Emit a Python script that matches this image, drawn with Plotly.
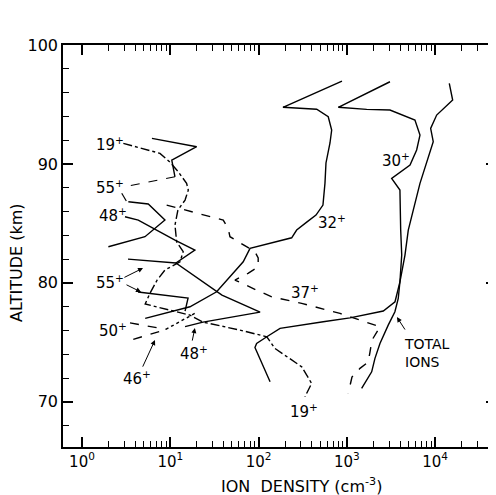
import plotly.graph_objects as go
import math

# ---- data (density cm^-3, altitude km) ----
total_n = [14450, 15780, 10400, 8890, 9510, 8010, 6730, 5650, 4960, 4550, 3990, 3820, 3500, 2940, 2370, 2080, 1910, 1470]
total_alt = [96.78, 95.37, 94.11, 92.99, 91.87, 90.05, 88.37, 86.12, 84.44, 82.34, 80.09, 78.70, 77.57, 76.45, 74.91, 73.65, 72.52, 71.13]

n30 = [3076, 800, 1676, 3076, 5900, 6730, 6170, 5190, 3215, 3990, 4070, 4180, 3990, 3510, 2585, 1676, 1084, 540, 294, 175, 124, 95, 91, 104, 135]
alt30 = [96.91, 94.76, 94.59, 94.53, 93.69, 92.43, 91.17, 89.91, 88.79, 87.80, 84.44, 82.34, 80.09, 78.41, 77.63, 77.35, 77.06, 76.73, 76.45, 76.17, 75.47, 74.91, 74.56, 73.59, 71.68]

n32 = [880, 189, 455, 615, 673, 644, 580, 565, 536, 447, 351, 270, 237, 80, 67, 33.5, 16.7, 5.2]
alt32 = [96.97, 94.76, 94.60, 93.97, 92.85, 91.76, 90.08, 88.39, 86.54, 85.70, 85.11, 84.44, 83.79, 82.90, 81.77, 79.25, 77.99, 77.01]

n37 = [9.1, 39.8, 45.4, 47.4, 73, 91, 99, 99, 76, 54, 95, 141, 308, 836, 2370, 2136, 1925, 1827, 1747, 1407, 1142, 1037]
alt37 = [86.54, 85.28, 84.53, 83.88, 83.04, 82.62, 82.09, 81.35, 80.80, 80.24, 79.39, 78.83, 78.28, 77.43, 76.31, 75.78, 75.19, 74.18, 73.34, 72.81, 72.08, 70.71]

n19 = [2.94, 7.64, 9.9, 12.3, 15.3, 16.0, 14.7, 12.2, 11.3, 11.8, 14.0, 12.9, 8.7, 7.1, 5.9, 5.2, 16.7, 23.5, 61.5, 124, 153, 208, 308, 399, 335]
alt19 = [91.73, 90.89, 90.16, 89.34, 88.37, 87.80, 86.96, 86.12, 84.86, 83.46, 82.62, 81.77, 81.08, 80.24, 79.14, 78.22, 77.29, 76.70, 76.03, 75.47, 74.49, 73.79, 72.94, 71.55, 70.42]

n55_top = [6.2, 19.9, 10.4, 11.3]
alt55_top = [92.15, 91.45, 90.33, 88.92]
n55_lead = [11.3, 3.32]
alt55_lead = [88.92, 88.14]
n55_mid = [3.35, 5.63, 8.7, 5.17, 1.99]
alt55_mid = [86.82, 86.63, 85.28, 83.88, 83.04]
n55_lead2 = [2.82, 3.21]
alt55_lead2 = [87.53, 86.82]
n55_low = [4.31, 15.9, 14.7]
alt55_low = [79.23, 78.72, 77.63]

n48 = [3.07, 4.34, 11.3, 19.0, 11.6, 16.7, 30.7, 38.5, 104, 23.5, 14.7]
alt48 = [85.56, 85.28, 83.60, 82.76, 81.67, 80.87, 79.54, 78.97, 77.54, 76.70, 76.32]
n48_b = [11.6, 3.32]
alt48_b = [81.67, 82.0]

n50 = [3.5, 8.9]
alt50 = [76.64, 76.09]
n46 = [3.81, 9.1]
alt46 = [75.25, 76.09]
n4650_up = [8.9, 20.1]
alt4650_up = [76.09, 77.54]

# tick values
x_major = [1, 10, 100, 1000, 10000]
x_major_text = ["10<sup>0</sup>", "10<sup>1</sup>", "10<sup>2</sup>", "10<sup>3</sup>", "10<sup>4</sup>"]
x_minor = [m * d for d in x_major for m in range(2, 10)]
y_major = [70, 80, 90, 100]

# labels: (text, density, altitude)
labels = [
    ("19<sup>+</sup>", 2.07, 91.67),
    ("55<sup>+</sup>", 2.07, 88.06),
    ("48<sup>+</sup>", 2.25, 85.70),
    ("55<sup>+</sup>", 2.07, 80.07),
    ("50<sup>+</sup>", 2.25, 76.03),
    ("46<sup>+</sup>", 4.2, 71.99),
    ("48<sup>+</sup>", 18.5, 74.10),
    ("19<sup>+</sup>", 327, 69.22),
    ("37<sup>+</sup>", 335, 79.23),
    ("32<sup>+</sup>", 678, 85.11),
    ("30<sup>+</sup>", 3600, 90.33),
]
# arrows: (tail density, tail alt, head density, head alt)
arrows = [
    (2.91, 80.40, 4.91, 81.24),
    (3.07, 79.90, 4.66, 79.23),
    (4.79, 72.83, 6.71, 75.19),
    (17.6, 75.02, 19.0, 76.20),
    (4670, 75.95, 3690, 77.12),
]

fig = go.Figure()

def add(x, y, dash="solid", w=1.4):
    fig.add_trace(go.Scatter(x=x, y=y, mode="lines",
                             line=dict(color="black", width=w, dash=dash),
                             showlegend=False, hoverinfo="skip"))

add(total_n, total_alt)
add(n30, alt30)
add(n32, alt32)
add(n37, alt37, "dash")
add(n19, alt19, "dashdot")
add(n55_top, alt55_top)
add(n55_lead, alt55_lead, "dash", 1.2)
add(n55_mid, alt55_mid)
add(n55_lead2, alt55_lead2, "dashdot", 1.2)
add(n55_low, alt55_low)
add(n48, alt48)
add(n48_b, alt48_b)
add(n50, alt50, "dash")
add(n46, alt46, "dash")
add(n4650_up, alt4650_up, "dot")

font = dict(family="DejaVu Sans", size=15, color="black")
ann = []
for t, xv, yv in labels:
    ann.append(dict(x=math.log10(xv), y=yv, xref="x", yref="y", text=t,
                    showarrow=False, font=font))
ann.append(dict(x=math.log10(4200), y=74.1, xref="x", yref="y",
                text="TOTAL<br>IONS", showarrow=False, xanchor="left", align="left",
                font=dict(family="DejaVu Sans", size=14, color="black")))
for tx, ty, hx, hy in arrows:
    ann.append(dict(x=math.log10(hx), y=hy, ax=math.log10(tx), ay=ty,
                    xref="x", yref="y", axref="x", ayref="y", text="",
                    showarrow=True, arrowhead=2, arrowsize=1, arrowwidth=1,
                    arrowcolor="black"))
ann.append(dict(x=-0.106, y=0.458, xref="paper", yref="paper", text="ALTITUDE (km)",
                textangle=-90, showarrow=False, xanchor="center", yanchor="middle",
                font=dict(family="DejaVu Sans", size=16, color="black")))
ann.append(dict(x=0.55, y=-0.095, xref="paper", yref="paper",
                text="ION  DENSITY (cm<sup>-3</sup>)", showarrow=False,
                xanchor="center", yanchor="middle",
                font=dict(family="DejaVu Sans", size=16, color="black")))

fig.update_layout(
    width=488, height=487,
    margin=dict(l=55, r=0, t=37, b=48, autoexpand=False),
    paper_bgcolor="white", plot_bgcolor="white",
    font=font,
    annotations=ann,
    xaxis=dict(type="log", range=[-0.215, 4.689], showgrid=False, zeroline=False,
               automargin=False, layer="above traces",
               showline=True, linecolor="black", linewidth=1.5, mirror="ticks",
               ticks="inside", ticklen=10, tickwidth=1.5, tickcolor="black",
               tickmode="array", tickvals=x_major, ticktext=x_major_text,
               minor=dict(tickmode="array", tickvals=x_minor, ticks="inside",
                          ticklen=6, tickwidth=1.3, tickcolor="black", showgrid=False),
               tickfont=dict(family="DejaVu Sans", size=15, color="black")),
    yaxis=dict(range=[66.2, 100.0], showgrid=False, zeroline=False,
               automargin=False, layer="above traces",
               showline=True, linecolor="black", linewidth=1.5, mirror="ticks",
               ticks="inside", ticklen=10, tickwidth=1.5, tickcolor="black",
               tickmode="array", tickvals=y_major,
               minor=dict(dtick=2, tick0=0, ticks="inside", ticklen=6, tickwidth=1.3,
                          tickcolor="black", showgrid=False),
               tickfont=dict(family="DejaVu Sans", size=16, color="black")),
)

fig.write_html("out.html")
